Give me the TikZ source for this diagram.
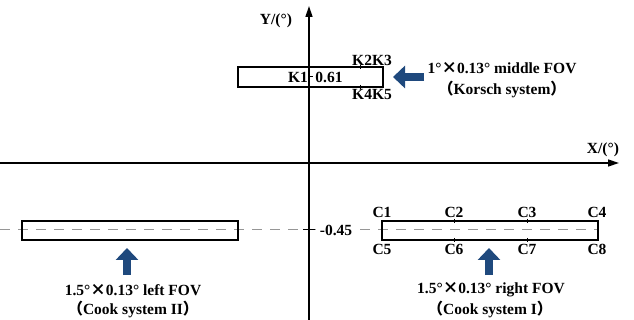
\documentclass[tikz,border=0pt]{standalone}
\usepackage{fontspec}
\setmainfont{Liberation Serif}
\newfontfamily\cjk{Noto Sans CJK SC}
\usetikzlibrary{arrows.meta}
\definecolor{fovblue}{RGB}{31,73,125}
\definecolor{dashgray}{RGB}{150,150,150}

\tikzset{
  fovbox/.style={draw, line width=1.5pt, inner sep=0pt, outer sep=0pt, anchor=north west},
  lbl/.style={font=\fontsize{15.5}{17}\selectfont\bfseries, inner sep=0pt},
  fovarrow/.style={fovblue, line width=8pt, -{Triangle[width=22pt, length=12pt]}},
  axis/.style={line width=1.4pt, -{Triangle[width=7pt, length=11pt]}},
  tickmark/.style={line width=1pt},
}

\begin{document}
\begin{tikzpicture}[x=1pt, y=-1pt]
\useasboundingbox (0,0) rectangle (634,320);

% dashed line at -0.45
\coordinate (dashstart) at (0,230);
\coordinate (dashend) at (597,230);
\draw[dashgray, line width=1pt, dash pattern=on 10pt off 8pt] (dashstart) -- (dashend);

% axes
\coordinate (ybottom) at (309,320);
\coordinate (ytop) at (309,6);
\coordinate (xleft) at (0,163);
\coordinate (xright) at (619,163);
\draw[axis] (ybottom) -- (ytop);
\draw[axis] (xleft) -- (xright);
\node[lbl] (ylabel) at (276,21) {Y/(°)};
\node[lbl] (xlabel) at (603,150) {X/(°)};

% middle FOV (Korsch)
\node[fovbox, minimum width=145pt, minimum height=20pt] (midbox) at (238,67) {};
\node[lbl] (k1) at (298,77) {K1};
\node[lbl] (k1val) at (329,77) {0.61};
\draw[tickmark] (309,77) -- (313,77);
\node[lbl] (k23) at (372,60) {K2K3};
\node[lbl] (k45) at (372,94) {K4K5};
\draw[tickmark] (360,65) -- (360,69);
\draw[tickmark] (360,85) -- (360,89);
\node[lbl] (midfov) at (502,68) {1°{\cjk ×}0.13° middle FOV};
\node[lbl] (midsys) at (502,89) {{\cjk （}Korsch system{\cjk ）}};
\coordinate (midtail) at (424,77);
\draw[fovarrow, shorten >=10pt] (midtail) -- (midtail -| midbox.east);

% left FOV (Cook II)
\node[fovbox, minimum width=216pt, minimum height=19pt] (leftbox) at (22,221) {};
\node[lbl] (leftfov) at (133,290) {1.5°{\cjk ×}0.13° left FOV};
\node[lbl] (leftsys) at (133,309) {{\cjk （}Cook system II{\cjk ）}};
\coordinate (lefttail) at (127,275);
\draw[fovarrow, shorten >=8pt] (lefttail) -- (lefttail |- leftbox.south);

% right FOV (Cook I)
\node[fovbox, minimum width=216pt, minimum height=19pt] (rightbox) at (382,221) {};
\node[lbl, fill=white, inner sep=2pt] (yval) at (336,230) {-0.45};
\draw[tickmark] (303,230) -- (315,230);
\foreach \name/\x in {1/382, 2/454, 3/527, 4/597} {
  \node[lbl] (c\name) at (\x,212) {C\name};
}
\foreach \name/\x in {5/382, 6/454, 7/527, 8/597} {
  \node[lbl] (c\name) at (\x,249) {C\name};
}
\foreach \x in {454, 527} {
  \draw[tickmark] (\x,219) -- (\x,223);
  \draw[tickmark] (\x,238) -- (\x,242);
}
\node[lbl] (rightfov) at (491,290) {1.5°{\cjk ×}0.13° right FOV};
\node[lbl] (rightsys) at (490,309) {{\cjk （}Cook system I{\cjk ）}};
\coordinate (righttail) at (489,275);
\draw[fovarrow, shorten >=8pt] (righttail) -- (righttail |- rightbox.south);
\end{tikzpicture}
\end{document}
